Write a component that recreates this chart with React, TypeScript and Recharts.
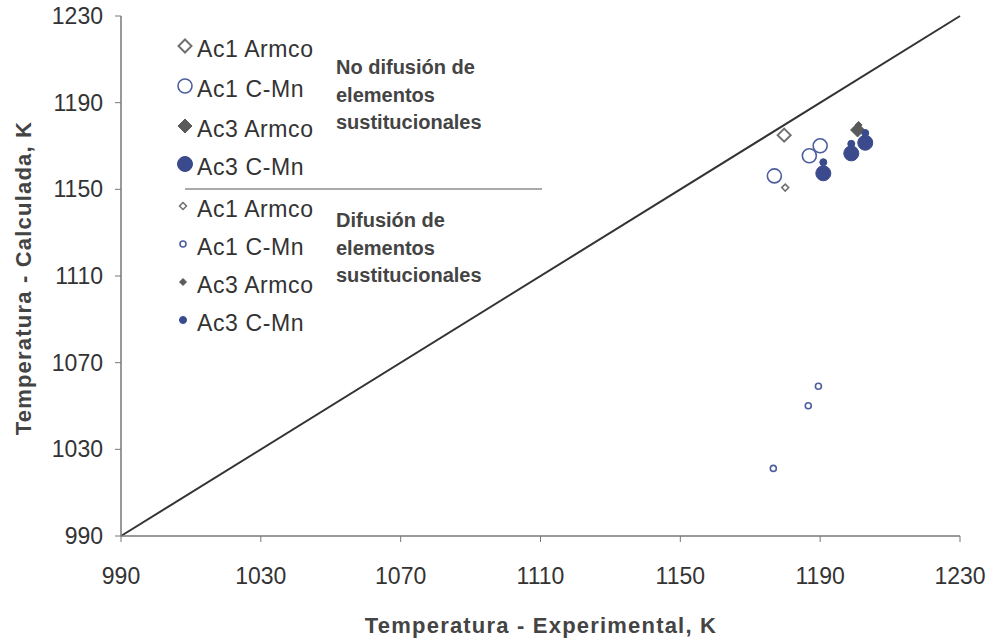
import React from "react";
import {
  Legend,
  ReferenceLine,
  Scatter,
  ScatterChart,
  XAxis,
  YAxis,
} from "recharts";

const FONT = '"Liberation Sans", Arial, sans-serif';
const BLUE = "#3b4a8c";
const BLUE_LINE = "#4c5e9e";
const GRAY = "#707070";
const DARK_GRAY = "#5a5a5a";

// Datos - sin difusión de elementos sustitucionales
const ac1ArmcoNoDif = [{ x: 1179.7, y: 1175 }];
const ac1CMnNoDif = [
  { x: 1176.9, y: 1156.2 },
  { x: 1186.9, y: 1165.5 },
  { x: 1190, y: 1170.1 },
];
const ac3ArmcoNoDif = [{ x: 1200.7, y: 1177.4 }];
const ac3CMnNoDif = [
  { x: 1190.9, y: 1157.4 },
  { x: 1198.9, y: 1166.6 },
  { x: 1202.9, y: 1171.5 },
];

// Datos - con difusión de elementos sustitucionales
const ac1ArmcoDif = [{ x: 1180, y: 1150.8 }];
const ac1CMnDif = [
  { x: 1176.6, y: 1021.2 },
  { x: 1186.6, y: 1050.1 },
  { x: 1189.5, y: 1059.1 },
];
const ac3ArmcoDif = [{ x: 1201, y: 1179.7 }];
const ac3CMnDif = [
  { x: 1190.9, y: 1162.5 },
  { x: 1198.9, y: 1171 },
  { x: 1202.9, y: 1176 },
];

const TICKS = [990, 1030, 1070, 1110, 1150, 1190, 1230];

const legendBig = ["Ac1 Armco", "Ac1 C-Mn", "Ac3 Armco", "Ac3 C-Mn"];
const legendSmall = ["Ac1 Armco", "Ac1 C-Mn", "Ac3 Armco", "Ac3 C-Mn"];
const noteBig = ["No difusión de", "elementos", "sustitucionales"];
const noteSmall = ["Difusión de", "elementos", "sustitucionales"];

type Mark = "diamond" | "circle";

const drawMark = (
  kind: Mark,
  cx: number,
  cy: number,
  r: number,
  fill: string,
  stroke: string,
  sw: number
) =>
  kind === "circle" ? (
    <circle cx={cx} cy={cy} r={r} fill={fill} stroke={stroke} strokeWidth={sw} />
  ) : (
    <polygon
      points={`${cx},${cy - r} ${cx + r},${cy} ${cx},${cy + r} ${cx - r},${cy}`}
      fill={fill}
      stroke={stroke}
      strokeWidth={sw}
    />
  );

const shape =
  (kind: Mark, r: number, fill: string, stroke: string, sw: number) =>
  (props: any) =>
    drawMark(kind, props.cx, props.cy, r, fill, stroke, sw);

const marks: [Mark, number, string, string, number][] = [
  ["diamond", 6.5, "#fff", GRAY, 2],
  ["circle", 7, "#fff", BLUE_LINE, 1.6],
  ["diamond", 7, DARK_GRAY, DARK_GRAY, 1],
  ["circle", 7.5, BLUE, BLUE, 1],
];
const marksSmall: [Mark, number, string, string, number][] = [
  ["diamond", 3.5, "#fff", GRAY, 1.5],
  ["circle", 3, "#fff", BLUE_LINE, 1.6],
  ["diamond", 3.5, DARK_GRAY, DARK_GRAY, 1],
  ["circle", 3.5, BLUE, BLUE, 1],
];

// Leyenda dibujada a mano (dos grupos separados por una línea)
const renderLegend = () => {
  const bigRows = [49, 89, 129, 167];
  const smallRows = [209, 247, 285, 323];
  const ox = 160;
  const oy = 20;
  return (
    <svg width={420} height={330} style={{ display: "block" }}>
      <g transform={`translate(${-ox},${-oy})`} fontFamily={FONT}>
        {legendBig.map((t, i) => (
          <g key={"b" + i}>
            {drawMark(marks[i][0], 185, bigRows[i] - 3, marks[i][1], marks[i][2], marks[i][3], marks[i][4])}
            <text x={197} y={bigRows[i] + 8} fontSize={23} letterSpacing={0.6} fill="#333">
              {t}
            </text>
          </g>
        ))}
        <line x1={185} x2={542} y1={189} y2={189} stroke="#555" strokeWidth={1.2} />
        {legendSmall.map((t, i) => (
          <g key={"s" + i}>
            {drawMark(marksSmall[i][0], 183, smallRows[i] - 3, marksSmall[i][1], marksSmall[i][2], marksSmall[i][3], marksSmall[i][4])}
            <text x={197} y={smallRows[i] + 8} fontSize={23} letterSpacing={0.6} fill="#333">
              {t}
            </text>
          </g>
        ))}
        {noteBig.map((t, i) => (
          <text key={"nb" + i} x={336} y={74 + i * 27.5} fontSize={20} fontWeight="bold" fill="#444">
            {t}
          </text>
        ))}
        {noteSmall.map((t, i) => (
          <text key={"ns" + i} x={336} y={227 + i * 27.5} fontSize={20} fontWeight="bold" fill="#444">
            {t}
          </text>
        ))}
      </g>
    </svg>
  );
};

const tickStyle = { fill: "#333", fontSize: 23, fontFamily: FONT };

export default function App() {
  return (
    <div style={{ position: "absolute", left: 0, top: 0, background: "#fff" }}>
      <ScatterChart
        width={990}
        height={641}
        margin={{ top: 16, right: 30, bottom: 0, left: 0 }}
        style={{ fontFamily: FONT }}
      >
        <XAxis
          type="number"
          dataKey="x"
          domain={[990, 1230]}
          ticks={TICKS}
          allowDataOverflow
          height={105}
          tickSize={6}
          tickMargin={26}
          tick={tickStyle}
          axisLine={{ stroke: "#777", strokeWidth: 1.5 }}
          tickLine={{ stroke: "#777" }}
          label={{
            content: () => (
              <text
                x={541}
                y={633}
                textAnchor="middle"
                fontFamily={FONT}
                fontSize={22}
                fontWeight="bold"
                letterSpacing={1.2}
                fill="#444"
              >
                Temperatura - Experimental, K
              </text>
            ),
          }}
        />
        <YAxis
          type="number"
          dataKey="y"
          domain={[990, 1230]}
          ticks={TICKS}
          allowDataOverflow
          width={121}
          tickSize={6}
          tickMargin={12}
          tick={tickStyle}
          axisLine={{ stroke: "#777", strokeWidth: 1.5 }}
          tickLine={{ stroke: "#777" }}
          label={{
            content: () => (
              <text
                transform="translate(31,278) rotate(-90)"
                textAnchor="middle"
                fontFamily={FONT}
                fontSize={22}
                fontWeight="bold"
                letterSpacing={1.2}
                fill="#444"
              >
                Temperatura - Calculada, K
              </text>
            ),
          }}
        />
        <ReferenceLine
          segment={[
            { x: 990, y: 990 },
            { x: 1230, y: 1230 },
          ]}
          stroke="#333"
          strokeWidth={2}
          ifOverflow="visible"
        />
        <Legend
          layout="vertical"
          align="center"
          verticalAlign="middle"
          content={renderLegend}
          wrapperStyle={{ left: 160, top: 20, width: 420, height: 330 }}
        />
        <Scatter name="Ac1 Armco" data={ac1ArmcoNoDif} shape={shape(...marks[0])} isAnimationActive={false} />
        <Scatter name="Ac1 C-Mn" data={ac1CMnNoDif} shape={shape(...marks[1])} isAnimationActive={false} />
        <Scatter name="Ac3 Armco" data={ac3ArmcoNoDif} shape={shape(...marks[2])} isAnimationActive={false} />
        <Scatter name="Ac3 C-Mn" data={ac3CMnNoDif} shape={shape(...marks[3])} isAnimationActive={false} />
        <Scatter name="Ac1 Armco (dif.)" data={ac1ArmcoDif} shape={shape(...marksSmall[0])} isAnimationActive={false} />
        <Scatter name="Ac1 C-Mn (dif.)" data={ac1CMnDif} shape={shape(...marksSmall[1])} isAnimationActive={false} />
        <Scatter name="Ac3 Armco (dif.)" data={ac3ArmcoDif} shape={shape(...marksSmall[2])} isAnimationActive={false} />
        <Scatter name="Ac3 C-Mn (dif.)" data={ac3CMnDif} shape={shape(...marksSmall[3])} isAnimationActive={false} />
      </ScatterChart>
    </div>
  );
}
